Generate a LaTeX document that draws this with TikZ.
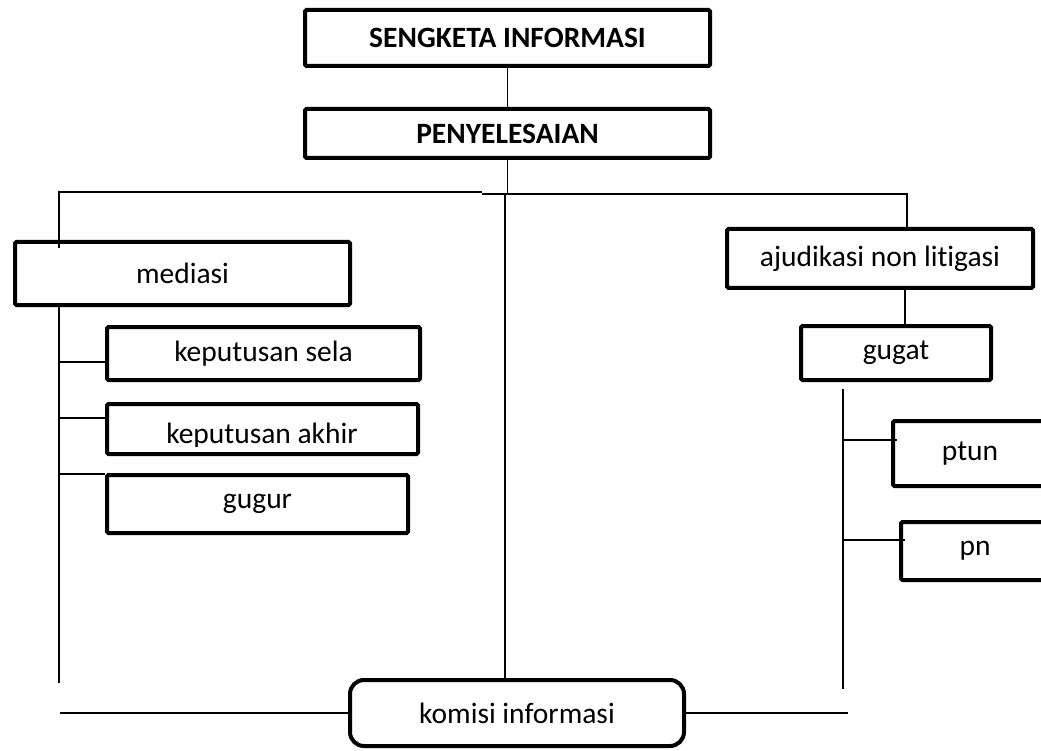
\documentclass[tikz,border=0pt]{standalone}
\usepackage{fontspec}
\setmainfont{Carlito}[RawFeature=-liga]
\begin{document}
\begin{tikzpicture}[x=1pt,y=-1pt,
  box/.style={draw=black,line width=4pt,rounded corners=1.5pt,fill=white,inner sep=0pt,
    font=\fontsize{29.5}{35}\selectfont},
  conn/.style={draw=black,line width=1.3pt},
  lbl/.style={inner sep=0pt,font=\fontsize{29.5}{35}\selectfont}]
\useasboundingbox (0,0) rectangle (1041,751);
\clip (0,0) rectangle (1041,751);
% boxes
\node[box,minimum width=405pt,minimum height=56pt,font=\fontsize{29.5}{35}\selectfont\bfseries] (sengketa) at (507.5,38) {SENGKETA INFORMASI};
\node[box,minimum width=405pt,minimum height=49pt,font=\fontsize{29.5}{35}\selectfont\bfseries] (penyelesaian) at (507.5,133.5) {PENYELESAIAN};
\node[box,minimum width=335pt,minimum height=63pt] (mediasi) at (182.5,273.5) {mediasi};
\node[box,minimum width=313pt,minimum height=53pt] (sela) at (263.5,353.5) {keputusan sela};
\node[box,minimum width=311pt,minimum height=50pt] (akhir) at (262.5,429) {};
\begin{scope}
  \clip (100,400) rectangle (430,446);
  \node[lbl,anchor=base] (akhirtext) at (262,443) {keputusan akhir};
\end{scope}
\node[box,minimum width=301pt,minimum height=58pt] (gugur) at (257.5,504) {gugur};
\node[box,minimum width=306pt,minimum height=59pt] (ajudikasi) at (880,258.5) {ajudikasi non litigasi};
\node[box,minimum width=190pt,minimum height=54pt] (gugat) at (896,353) {gugat};
\node[box,minimum width=154pt,minimum height=65pt] (ptun) at (970,453.5) {ptun};
\node[box,minimum width=148pt,minimum height=58pt] (pn) at (975,551) {pn};
\node[box,rounded corners=14pt,minimum width=334pt,minimum height=66pt] (komisi) at (517,713) {komisi informasi};
% coordinates
\coordinate (tl) at (59,192);
\coordinate (tm) at (482,192);
\coordinate (tm2) at (482,194);
\coordinate (tr) at (907,194);
\coordinate (mid) at (505,194);
\coordinate (mtop) at (59,248);
\coordinate (lbot) at (59,683);
\coordinate (b1) at (59,362);
\coordinate (b2) at (59,418);
\coordinate (b3) at (59,474);
\coordinate (ajd) at (905,290);
\coordinate (rtop) at (843,389);
\coordinate (rbot) at (843,689);
\coordinate (r1) at (843,440);
\coordinate (r2) at (843,540);
\coordinate (bl) at (60,713);
\coordinate (br) at (848,713);
% connectors
\draw[conn] (sengketa.south) -- (penyelesaian.north);
\draw[conn] (penyelesaian.south) -- (penyelesaian.south |- tr);
\draw[conn] (tm) -- (tl) -- (mtop);
\draw[conn] (tm2) -- (tr) -- (ajudikasi.north -| tr);
\draw[conn] (mid) -- (mid |- komisi.north);
\draw[conn] (mediasi.south -| lbot) -- (lbot);
\draw[conn] (b1) -- (b1 -| sela.west);
\draw[conn] (b2) -- (b2 -| akhir.west);
\draw[conn] (b3) -- (b3 -| gugur.west);
\draw[conn] (ajd) -- (ajd |- gugat.north);
\draw[conn] (rtop) -- (rbot);
\draw[conn] (r1) -- ([xshift=6pt]r1 -| ptun.west);
\draw[conn] (r2) -- ([xshift=6pt]r2 -| pn.west);
\draw[conn] (bl) -- (komisi.west);
\draw[conn] (komisi.east) -- (br);
\end{tikzpicture}
\end{document}
